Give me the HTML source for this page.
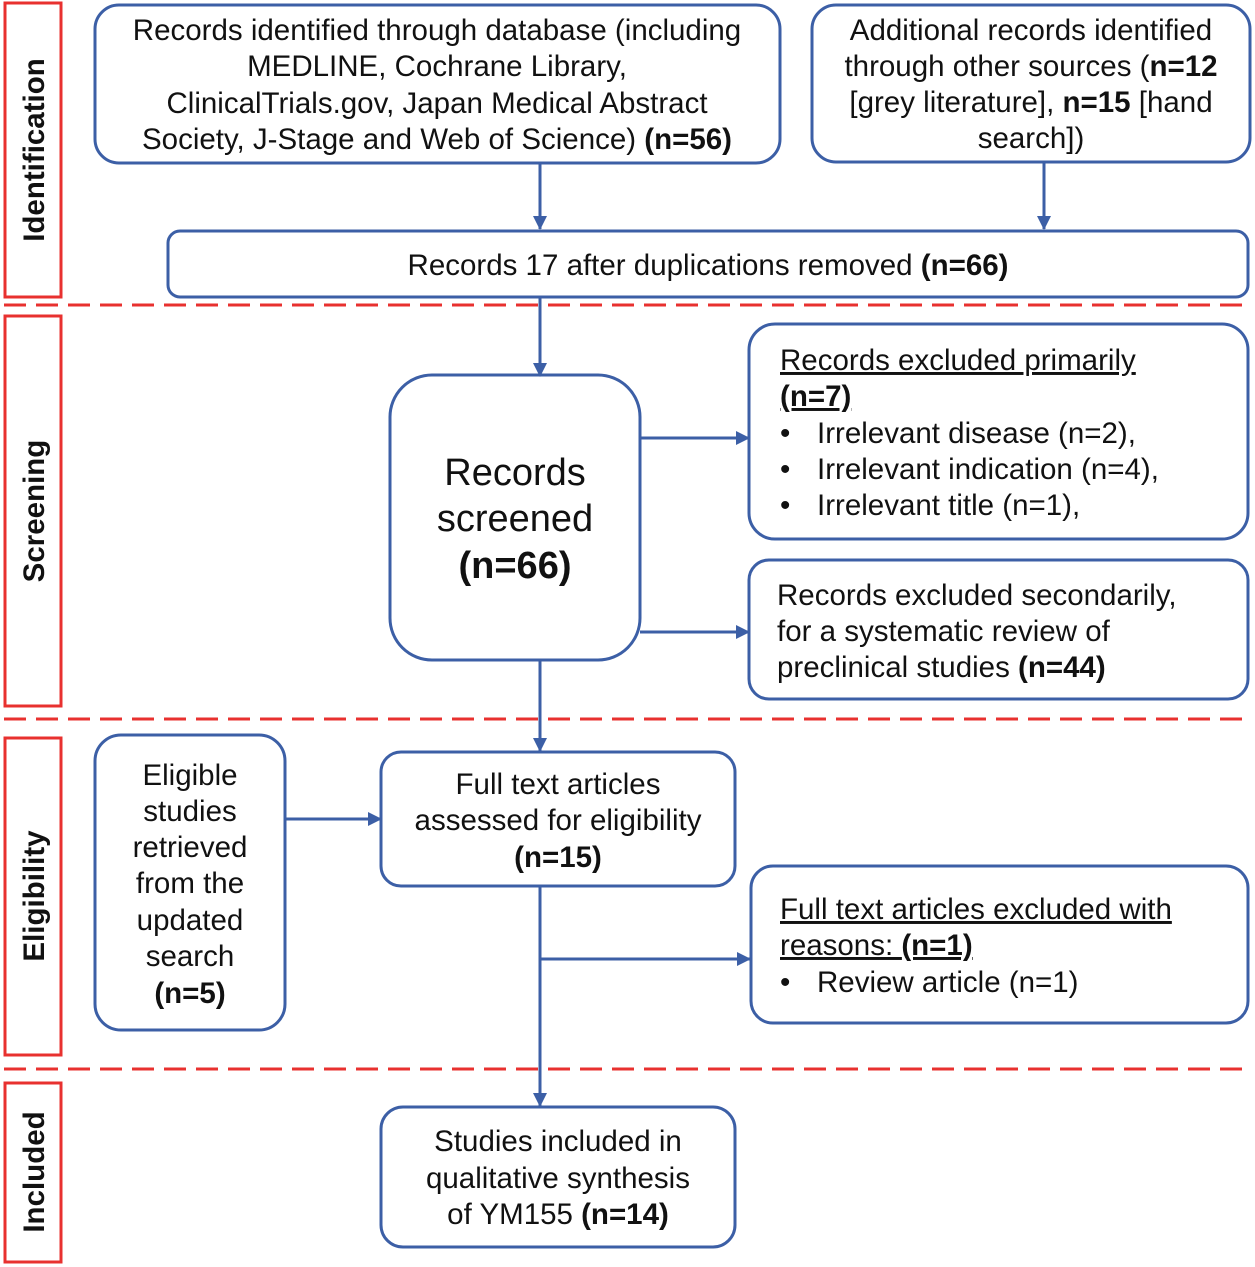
<!DOCTYPE html>
<html><head><meta charset="utf-8"><style>
html,body{margin:0;padding:0;background:#fff}
svg{display:block}
text{font-family:"Liberation Sans",Arial,sans-serif;fill:#111}
</style></head><body>
<svg width="1255" height="1267" viewBox="0 0 1255 1267" xmlns="http://www.w3.org/2000/svg">
<defs><marker id="a" markerWidth="14" markerHeight="14" refX="13" refY="7" orient="auto" markerUnits="userSpaceOnUse"><path d="M0,0 L14,7 L0,14 z" fill="#3c5fa6"/></marker></defs>
<g fill="none" stroke="#e8312f" stroke-width="3">
<rect x="5" y="3" width="56" height="294"/>
<rect x="5" y="316" width="56" height="390"/>
<rect x="5" y="738" width="56" height="317"/>
<rect x="5" y="1083" width="56" height="179"/>
<g stroke-dasharray="22,10"><line x1="4" y1="305" x2="1252" y2="305"/><line x1="4" y1="719" x2="1252" y2="719"/><line x1="4" y1="1069" x2="1252" y2="1069"/></g>
</g>
<g font-size="29.5" font-weight="bold" text-anchor="middle">
<text transform="translate(44,150) rotate(-90)">Identification</text>
<text transform="translate(44,511) rotate(-90)">Screening</text>
<text transform="translate(44,896) rotate(-90)">Eligibility</text>
<text transform="translate(44,1172) rotate(-90)">Included</text>
</g>
<g fill="none" stroke="#3c5fa6" stroke-width="3">
<rect x="95" y="5" width="685" height="158" rx="24"/>
<rect x="812" y="5" width="438" height="157" rx="24"/>
<rect x="168" y="231" width="1080" height="66" rx="12"/>
<rect x="390" y="375" width="250" height="285" rx="42"/>
<rect x="749" y="324" width="499" height="215" rx="26"/>
<rect x="749" y="560" width="499" height="139" rx="20"/>
<rect x="95" y="735" width="190" height="295" rx="26"/>
<rect x="381" y="752" width="354" height="134" rx="20"/>
<rect x="751" y="866" width="497" height="157" rx="22"/>
<rect x="381" y="1107" width="354" height="140" rx="22"/>
<g stroke-width="3" marker-end="url(#a)">
<line x1="540" y1="163" x2="540" y2="229"/>
<line x1="1044" y1="162" x2="1044" y2="229"/>
<line x1="540" y1="297" x2="540" y2="376"/>
<line x1="640" y1="438" x2="749" y2="438"/>
<line x1="640" y1="632" x2="749" y2="632"/>
<line x1="540" y1="660" x2="540" y2="751"/>
<line x1="285" y1="819" x2="381" y2="819"/>
<line x1="540" y1="886" x2="540" y2="1106"/>
<line x1="540" y1="959" x2="750" y2="959"/>
</g>
</g>
<g font-size="29.5" text-anchor="middle">
<text x="437" y="40">Records identified through database (including</text>
<text x="437" y="76">MEDLINE, Cochrane Library,</text>
<text x="437" y="113">ClinicalTrials.gov, Japan Medical Abstract</text>
<text x="437" y="149">Society, J-Stage and Web of Science) <tspan font-weight="bold">(n=56)</tspan></text>
<text x="1031" y="40">Additional records identified</text>
<text x="1031" y="76">through other sources (<tspan font-weight="bold">n=12</tspan></text>
<text x="1031" y="112">[grey literature], <tspan font-weight="bold">n=15</tspan> [hand</text>
<text x="1031" y="148">search])</text>
<text x="708" y="275">Records 17 after duplications removed <tspan font-weight="bold">(n=66)</tspan></text>
<text x="515" y="485" font-size="38">Records</text>
<text x="515" y="531" font-size="38">screened</text>
<text x="515" y="578" font-size="38" font-weight="bold">(n=66)</text>
<text x="190" y="785">Eligible</text>
<text x="190" y="821">studies</text>
<text x="190" y="857">retrieved</text>
<text x="190" y="893">from the</text>
<text x="190" y="930">updated</text>
<text x="190" y="966">search</text>
<text x="190" y="1003" font-weight="bold">(n=5)</text>
<text x="558" y="794">Full text articles</text>
<text x="558" y="830">assessed for eligibility</text>
<text x="558" y="867" font-weight="bold">(n=15)</text>
<text x="558" y="1151">Studies included in</text>
<text x="558" y="1188">qualitative synthesis</text>
<text x="558" y="1224">of YM155 <tspan font-weight="bold">(n=14)</tspan></text>
</g>
<g font-size="29.5">
<text x="780" y="370" text-decoration="underline">Records excluded primarily</text>
<text x="780" y="406" font-weight="bold" text-decoration="underline">(n=7)</text>
<text x="780" y="443">•</text><text x="817" y="443">Irrelevant disease (n=2),</text>
<text x="780" y="479">•</text><text x="817" y="479">Irrelevant indication (n=4),</text>
<text x="780" y="515">•</text><text x="817" y="515">Irrelevant title (n=1),</text>
<text x="777" y="605">Records excluded secondarily,</text>
<text x="777" y="641">for a systematic review of</text>
<text x="777" y="677">preclinical studies <tspan font-weight="bold">(n=44)</tspan></text>
<text x="780" y="919" text-decoration="underline">Full text articles excluded with</text>
<text x="780" y="955" text-decoration="underline">reasons: <tspan font-weight="bold">(n=1)</tspan></text>
<text x="780" y="992">•</text><text x="817" y="992">Review article (n=1)</text>
</g>
</svg>
</body></html>
